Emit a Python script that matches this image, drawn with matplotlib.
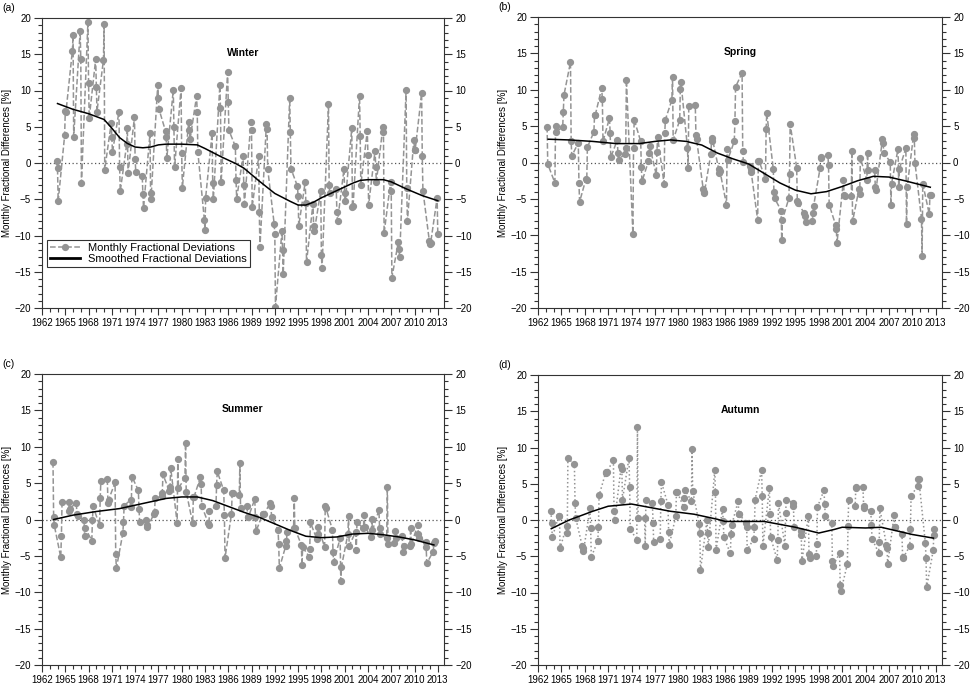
import matplotlib.pyplot as plt
from matplotlib.ticker import MultipleLocator
from matplotlib.lines import Line2D

plt.rcParams["font.family"] = ["Liberation Sans", "DejaVu Sans"]

# first month offset (months after January) of each season
winter_start = -1
spring_start = 2
summer_start = 5
autumn_start = 8

winter_years = list(range(1964, 2014))
winter_vals = [
    [0.3, -0.7, -5.3], [3.8, 7.2, 7.0], [15.5, 17.6, 3.6], [18.2, 14.3, -2.7],
    [19.4, 11.0, 6.2], [14.3, 10.5, 7.1], [14.2, 19.2, -0.9], [5.5, 3.6, 1.5],
    [7.1, -0.5, -3.9], [2.6, 4.8, -1.4], [6.3, 0.5, -1.2], [-1.8, -4.3, -6.2],
    [4.1, -5.0, -4.2], [10.8, 8.9, 7.4], [4.4, 3.6, 0.7], [10.1, 5.0, -0.6],
    [10.3, 1.4, -3.4], [5.7, 4.5, 3.3], [9.2, 7.1, 1.5], [-7.8, -9.2, -4.8],
    [4.1, -2.8, -4.9], [10.7, 7.6, -2.6], [12.5, 8.4, 4.5], [2.3, -2.3, -4.9],
    [1.0, -3.1, -5.6], [5.6, 4.6, -6.1], [0.9, -6.8, -11.6], [5.4, 4.7, -0.8],
    [-8.4, -9.8, -19.8], [-9.4, -12.0, -15.3], [9.0, 4.3, -0.8], [-3.2, -4.6, -8.7],
    [-2.6, -5.5, -13.7], [-5.6, -8.7, -9.4], [-3.9, -12.7, -14.5], [8.1, -3.1, -4.2],
    [-3.6, -6.8, -8.0], [-0.8, -4.2, -5.3], [4.8, -6.1, -5.9], [9.3, 3.7, -3.0],
    [4.4, 1.1, -5.8], [1.7, -0.5, -2.6], [4.9, 4.3, -9.7], [-2.6, -3.8, -15.8],
    [-10.9, -11.9, -13.0], [10.1, -3.5, -8.0], [3.2, 1.8, 1.8], [9.6, 1.0, -3.8],
    [-10.8, -11.2, -11.0], [-4.8, -9.8],
]
winter_sm_x = [1964, 1966, 1968, 1970, 1971, 1972, 1973, 1974, 1975, 1976, 1977, 1978,
               1980, 1982, 1983, 1985, 1987, 1988, 1990, 1992, 1994, 1995, 1996, 1997,
               1998, 2000, 2002, 2003, 2004, 2006, 2007, 2009, 2011, 2013]
winter_sm_y = [8.2, 7.4, 6.8, 6.0, 4.8, 3.5, 2.7, 2.2, 2.1, 2.2, 2.5, 2.6,
               2.6, 2.5, 2.0, 0.9, -0.1, -0.7, -2.5, -4.2, -5.3, -5.8, -5.8, -5.4,
               -4.8, -3.8, -2.8, -2.4, -2.3, -2.3, -2.6, -3.6, -4.5, -5.2]

spring_years = list(range(1963, 2013))
spring_vals = [
    [4.9, -0.2], [-2.8, 5.0, 4.2], [4.9, 7.0, 9.3], [13.8, 2.9, 0.9],
    [2.7, -2.8, -5.4], [-2.2, -2.4, 2.1], [4.2, 6.5, 6.5], [10.2, 8.7, 2.9],
    [6.1, 4.1, 0.7], [3.1, 1.3, 0.4], [1.2, 2.0, 11.4], [-9.8, 2.0, 5.9],
    [2.9, -0.6, -2.6], [0.2, 1.3, 2.2], [-1.7, 1.5, 3.5], [-2.9, 4.0, 5.9],
    [8.6, 11.7, 3.1], [5.8, 10.1, 11.0], [2.0, -0.8, 7.8], [7.9, 3.8, 3.2],
    [-3.6, -4.2, -4.1], [1.2, 3.0, 3.4], [-0.9, -1.5, -1.2], [-5.8, 1.8, 0.4],
    [2.9, 5.7, 10.4], [12.3, 1.6, 0.1], [-0.5, -0.9, -1.3], [-7.9, 0.2, 0.2],
    [-2.2, 4.6, 6.8], [-0.9, -4.0, -4.9], [-6.6, -10.6, -7.9], [-4.9, -1.6, 5.3],
    [-0.7, -5.3, -5.6], [-7.0, -7.3, -8.2], [-8.1, -7.0, -6.0], [-0.8, 0.7, 0.6],
    [1.0, -0.3, -5.8], [-8.6, -9.1, -11.1], [-2.4, -4.5, -4.6], [-4.6, 1.6, -8.1],
    [-3.6, -4.3, 0.6], [-2.4, 1.3, -1.0], [-1.0, -3.4, -3.8], [3.2, 2.7, 1.3],
    [0.1, -5.9, -2.9], [1.9, -3.3, -0.9], [2.0, -8.4, -3.4], [3.9, 3.3, 0.0],
    [-7.7, -12.8, -2.9], [-7.1, -4.5, -4.4],
]
spring_sm_x = [1963.3, 1966, 1969, 1972, 1975, 1977, 1979, 1981, 1983, 1985, 1987,
               1989, 1991, 1993, 1995, 1997, 1999, 2001, 2003, 2005, 2007, 2009, 2012.3]
spring_sm_y = [3.2, 3.1, 2.9, 2.6, 2.6, 2.9, 3.1, 2.9, 2.4, 1.3, 0.5,
               -0.2, -1.5, -2.8, -3.8, -4.3, -4.0, -3.3, -2.5, -1.9, -2.0, -2.5, -3.4]

summer_years = list(range(1963, 2013))
summer_vals = [
    [7.9, 0.4, -0.8], [-5.2, -2.3, 2.4], [2.4, 1.2, 1.5], [2.3, 0.8, 0.5],
    [-0.1, -2.2, -1.2], [-2.9, -0.1, 1.8], [-0.8, 2.9, 5.3], [5.5, 2.3, 2.7],
    [5.1, -4.8, -6.7], [-1.9, -0.3, 1.9], [2.7, 1.7, 5.9], [4.0, 1.5, -0.4],
    [-0.1, -0.8, -1.0], [0.7, 1.0, 2.9], [3.2, 3.6, 6.2], [3.9, 4.5, 7.1],
    [-0.5, 8.3, 4.3], [5.7, 10.5, 3.8], [-0.5, 3.1, 3.1], [5.8, 4.9, 1.9],
    [-0.5, -0.8, 1.1], [1.9, 4.8, 6.6], [4.0, 0.6, -5.3], [0.8, 3.6, 3.6],
    [3.3, 7.8, 1.6], [1.9, 0.3, 0.3], [2.8, 0.3, -1.6], [0.7, 0.7, 0.7],
    [2.3, 1.9, 0.3], [-1.4, -3.4, -6.7], [-3.6, -3.0, -1.7], [-1.2, 2.9, -1.2],
    [-3.5, -6.3, -3.8], [-5.1, -4.0, -0.4], [-2.7, -2.0, -1.0], [-3.8, 1.9, 1.6],
    [-1.4, -4.5, -5.8], [-2.6, -8.4, -6.5], [-2.0, 0.5, -3.6], [-1.7, -4.2, -0.4],
    [-1.2, 0.6, -1.0], [-2.4, 0.1, -1.5], [1.3, -1.2, -2.0], [-2.6, 4.5, -3.4],
    [-3.2, -1.6, -2.6], [-2.3, -4.5, -3.7], [-3.6, -1.1, -3.4], [-0.8, -2.0, -2.5],
    [-3.1, -3.8, -6.0], [-4.4, -3.2, -3.0],
]
summer_sm_x = [1963.5, 1966, 1969, 1972, 1975, 1978, 1980, 1982, 1984, 1986, 1988,
               1990, 1992, 1994, 1996, 1998, 2000, 2002, 2004, 2006, 2008, 2010, 2012.5]
summer_sm_y = [0.0, 0.6, 1.1, 1.5, 2.2, 2.9, 3.1, 3.1, 2.6, 1.8, 1.0,
               0.3, -0.6, -1.5, -2.3, -2.5, -2.4, -2.0, -1.9, -2.1, -2.4, -2.8, -3.5]

autumn_years = list(range(1963, 2013))
autumn_vals = [
    [1.2, -0.4, -2.4], [0.6, 0.5, -3.9], [-0.8, -1.8, 8.5], [7.7, 2.3, 0.3],
    [-3.6, -3.8, -4.3], [1.6, -1.1, -5.1], [-2.9, -0.9, 3.4], [6.5, 6.6, 6.6],
    [8.3, 1.2, 0.0], [7.4, 7.1, 2.8], [8.6, 4.5, -1.3], [-2.7, 12.8, 0.3],
    [0.3, -3.6, 2.7], [2.4, -0.4, -3.0], [-2.6, 2.6, 5.2], [2.1, -1.6, -3.4],
    [0.5, 3.8, 3.9], [1.8, 3.0, 4.2], [2.6, 9.8, 4.0], [-0.5, -1.8, -6.9],
    [0.0, -1.8, -3.7], [6.9, 3.8, -4.1], [1.5, -0.2, -2.4], [-4.6, -1.9, -0.7],
    [2.6, 0.8, 0.8], [-0.4, -1.0, -4.1], [-2.6, -0.9, 2.8], [6.9, 3.3, -3.6],
    [4.4, 0.8, -2.4], [-5.5, -2.7, 2.3], [-3.6, 0.9, 2.8], [2.4, 1.9, -0.9],
    [-1.5, -2.0, -5.7], [0.6, -4.7, -5.3], [-5.0, -3.3, 1.8], [4.1, 2.2, 0.5],
    [-0.4, -5.7, -6.3], [-4.6, -9.0, -9.8], [-6.1, -0.8, 2.8], [2.0, 4.4, 4.6],
    [4.5, 2.0, 1.6], [1.3, -0.7, -2.6], [-4.5, -3.0, 1.6], [-3.4, -3.8, -6.1],
    [0.7, -1.0, -1.0], [-1.9, -5.1, -5.2], [-3.6, -1.3, 3.3], [4.7, 5.6, 5.6],
    [-3.2, -5.2, -9.3], [-4.2, -2.0, -1.3],
]
autumn_sm_x = [1963.7, 1966, 1969, 1971, 1974, 1977, 1979, 1982, 1985, 1986, 1989,
               1991, 1993, 1995, 1998, 2000, 2001, 2004, 2006, 2008, 2010, 2012.7]
autumn_sm_y = [-1.2, 0.0, 1.2, 1.9, 2.2, 1.6, 1.2, 0.8, 0.1, -0.2, -0.2,
               -0.2, -0.6, -1.0, -1.8, -1.3, -1.0, -1.1, -1.0, -1.5, -2.0, -2.5]

panels = [
    ("(a)", "Winter", winter_years, winter_vals, winter_start, winter_sm_x, winter_sm_y, "--"),
    ("(b)", "Spring", spring_years, spring_vals, spring_start, spring_sm_x, spring_sm_y, "--"),
    ("(c)", "Summer", summer_years, summer_vals, summer_start, summer_sm_x, summer_sm_y, "--"),
    ("(d)", "Autumn", autumn_years, autumn_vals, autumn_start, autumn_sm_x, autumn_sm_y, ":"),
]

# axes boxes in pixels (left, top, right, bottom)
boxes = [(42, 18, 444, 308), (538, 17, 942, 308),
         (42, 374, 444, 665), (538, 375, 942, 665)]
W, H = 971, 687
gray = "#949494"

fig = plt.figure(figsize=(W / 100, H / 100), dpi=100)

for (tag, title, years, vals, start, sx, sy, ls), (l, t, r, b) in zip(panels, boxes):
    ax = fig.add_axes([l / W, 1 - b / H, (r - l) / W, (b - t) / H])

    # monthly points sit at year + month/12
    xs, ys = [], []
    for yr, v in zip(years, vals):
        for i, val in enumerate(v):
            xs.append(yr + (start + i) / 12)
            ys.append(val)

    ax.axhline(0, color="#555555", lw=0.9, ls=(0, (1, 2)), zorder=1)
    ax.plot(xs, ys, color=gray, ls=ls, lw=1.1, marker="o", ms=4.2,
            mfc=gray, mec=gray, zorder=2)
    ax.plot(sx, sy, color="black", lw=1.1, zorder=3)

    ax.set_xlim(1962, 2013.8)
    ax.set_ylim(-20, 20)
    ax.set_xticks(range(1962, 2014, 3))
    ax.xaxis.set_minor_locator(MultipleLocator(1))
    ax.yaxis.set_major_locator(MultipleLocator(5))
    ax.yaxis.set_minor_locator(MultipleLocator(1))
    ax.tick_params(axis="both", which="both", direction="out", labelsize=7,
                   width=0.8, color="#333333")
    ax.tick_params(axis="y", which="both", left=True, right=True,
                   labelleft=True, labelright=True, pad=2)
    ax.tick_params(axis="x", which="major", length=5, pad=2)
    ax.tick_params(axis="y", which="major", length=6)
    ax.tick_params(which="minor", length=3)
    for s in ax.spines.values():
        s.set_linewidth(0.8)
        s.set_color("#333333")

    ax.set_ylabel("Monthly Fractional Differences [%]", fontsize=7, labelpad=2)
    ax.text(0.5, 0.88, title, transform=ax.transAxes, ha="center", va="center",
            fontsize=7.5, fontweight="bold")
    fig.text((l - 40) / W, 1 - (t - 10) / H, tag, fontsize=7.5, ha="left", va="center")

    if tag == "(a)":
        handles = [
            Line2D([], [], color=gray, ls="--", lw=1.1, marker="o", ms=4.2, mfc=gray, mec=gray),
            Line2D([], [], color="black", lw=2),
        ]
        leg = ax.legend(handles, ["Monthly Fractional Deviations", "Smoothed Fractional Deviations"],
                        loc="lower left", bbox_to_anchor=(0.012, 0.141), borderaxespad=0,
                        fontsize=8, frameon=True, fancybox=False, handlelength=2.7,
                        handletextpad=0.8, borderpad=0.25, labelspacing=0.15)
        leg.get_frame().set_edgecolor("black")
        leg.get_frame().set_linewidth(0.8)

fig.savefig("out.png", dpi=100)
